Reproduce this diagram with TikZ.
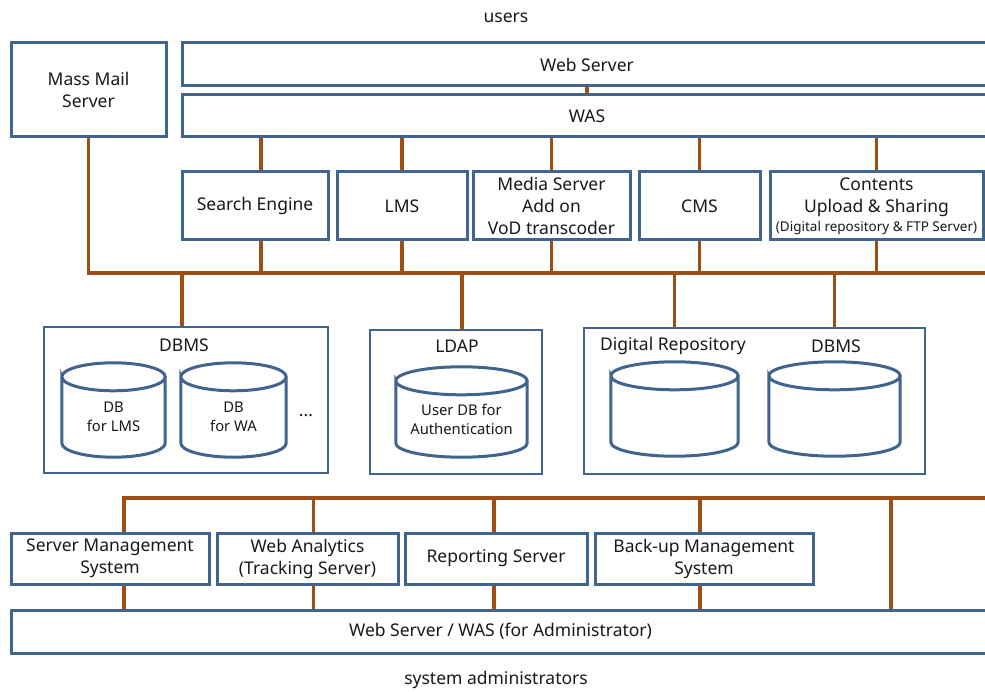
\documentclass[tikz,border=0pt]{standalone}
\usepackage{fontspec}
\setmainfont{Noto Sans}
\usetikzlibrary{positioning,calc,backgrounds}
\definecolor{boxblue}{RGB}{65,100,143}
\definecolor{wirebrown}{RGB}{158,78,20}

\tikzset{
  srvbox/.style={rectangle, draw=boxblue, line width=3pt, fill=white, align=center, inner sep=0pt, text=black!90, font=\fontsize{17.5}{22}\selectfont},
  groupbox/.style={rectangle, draw=boxblue, line width=1.6pt, fill=white, inner sep=0pt},
  dbbody/.style={rectangle, align=center, inner sep=0pt, text=black!90, font=\fontsize{14.8}{19}\selectfont},
  dbline/.style={draw=boxblue, line width=3pt},
  wire/.style={draw=wirebrown, line width=3.5pt},
  lbl/.style={inner sep=0pt, text=black!90, font=\fontsize{17.5}{22}\selectfont}
}

\begin{document}
\begin{tikzpicture}[x=1pt, y=-1pt]
    \useasboundingbox (0,0) rectangle (985,692);

    \node [lbl] (users) at (506,18) {users};
    \node [lbl] (admins) at (496,680) {system administrators};

    \node [srvbox, minimum width=155pt, minimum height=94pt] (mail) at (88.5,90) {Mass Mail\\Server};
    \node [srvbox, minimum width=810pt, minimum height=43pt] (web) at (587,64.5) {Web Server};
    \node [srvbox, minimum width=810pt, minimum height=42pt] (was) at (587,116) {WAS};

    \node [srvbox, minimum width=146pt, minimum height=68pt] (search) at (255,206) {Search Engine};
    \node [srvbox, minimum width=130pt, minimum height=68pt] (lms) at (402,206) {LMS};
    \node [srvbox, minimum width=157pt, minimum height=68pt] (media) at (551.5,206) {Media Server\\Add on\\VoD transcoder};
    \node [srvbox, minimum width=121pt, minimum height=68pt] (cms) at (699.5,206) {CMS};
    \node [srvbox, minimum width=213pt, minimum height=68pt] (contents) at (876.5,206) {Contents\\Upload \& Sharing\\[-3pt]{\fontsize{13.5}{15}\selectfont(Digital repository \& FTP Server)}};

    % database groups
    \node [groupbox, minimum width=284pt, minimum height=146pt] (dbgrp) at (186,400) {};
    \node [lbl] (dbgrplbl) at (184,345) {DBMS};
    \node [dbbody, minimum width=103pt, minimum height=80pt] (lmsdb) at (113.5,417) {DB\\for LMS};
    \node [dbbody, minimum width=105pt, minimum height=80pt] (wadb) at (233.5,417) {DB\\for WA};
    \node [lbl] (more) at (306,416) {...};

    \node [groupbox, minimum width=172pt, minimum height=144pt] (ldapgrp) at (456,402) {};
    \node [lbl] (ldaplbl) at (457,346) {LDAP};
    \node [dbbody, minimum width=131pt, minimum height=76pt] (authdb) at (461.5,419) {User DB for\\Authentication};

    \node [groupbox, minimum width=341pt, minimum height=146pt] (repogrp) at (754.5,401) {};
    \node [lbl] (repolbl) at (673,346) {Digital Repository};
    \node [lbl] (dbmslbl) at (836,346) {DBMS};
    \node [dbbody, minimum width=127pt, minimum height=80pt] (repodb) at (674.5,416) {};
    \node [dbbody, minimum width=131pt, minimum height=80pt] (contdb) at (834.5,416) {};

    % cylinders round the db nodes
    \foreach \c in {lmsdb, wadb, authdb, repodb, contdb} {
        \draw [dbline] let \p1 = (\c.north west), \p2 = (\c.south east), \n1 = {(\x2-\x1)/2} in
            (\x1,\y1) arc [start angle=180, end angle=-180, x radius=\n1, y radius=14pt]
            -- (\x1,\y2+14pt) arc [start angle=180, end angle=360, x radius=\n1, y radius=14pt] -- (\x2,\y1);
    }

    % administration
    \node [srvbox, minimum width=198pt, minimum height=51pt] (smgmt) at (110,558.5) {Server Management\\System};
    \node [srvbox, minimum width=181pt, minimum height=51pt] (wana) at (307.5,558.5) {Web Analytics\\(Tracking Server)};
    \node [srvbox, minimum width=182pt, minimum height=51pt] (report) at (496,558.5) {Reporting Server};
    \node [srvbox, minimum width=218pt, minimum height=51pt] (backup) at (704,558.5) {Back-up Management\\System};
    \node [srvbox, minimum width=979pt, minimum height=43pt] (admin) at (500.5,631.5) {Web Server / WAS (for Administrator)};

    \coordinate (topbus) at (1000,273);
    \coordinate (lowbus) at (1000,498);
    \coordinate (tap) at (891,498);

    \begin{pgfonlayer}{background}
        \draw [wire] (web.south) -- (was.north);
        \draw [wire] (mail.south) |- (topbus);
        \draw [wire] (was.south -| 261,0) -- ([xshift=6pt]search.north);
        \draw [wire] ([xshift=6pt]search.south) -- ([xshift=6pt]search.south |- topbus);
        \foreach \n in {lms, media, cms, contents} {
            \draw [wire] (was.south -| \n.north) -- (\n.north);
            \draw [wire] (\n.south) -- (\n.south |- topbus);
        }
        \draw [wire] ([xshift=-4pt]dbgrp.north) -- ([xshift=-4pt]dbgrp.north |- topbus);
        \draw [wire] ([xshift=6pt]ldapgrp.north) -- ([xshift=6pt]ldapgrp.north |- topbus);
        \draw [wire] (repogrp.north -| repodb) -- (repodb |- topbus);
        \draw [wire] (repogrp.north -| contdb) -- (contdb |- topbus);

        \draw [wire] ([xshift=14pt]smgmt.north) |- (lowbus);
        \draw [wire] ([xshift=14pt]smgmt.south) -- ([xshift=14pt]smgmt.south |- admin.north);
        \foreach \n/\s in {wana/6pt, report/-2pt, backup/-4pt} {
            \draw [wire] ([xshift=\s]\n.north) -- ([xshift=\s]\n.north |- lowbus);
            \draw [wire] ([xshift=\s]\n.south) -- ([xshift=\s]\n.south |- admin.north);
        }
        \draw [wire] (tap) -- (tap |- admin.north);
    \end{pgfonlayer}
\end{tikzpicture}
\end{document}
